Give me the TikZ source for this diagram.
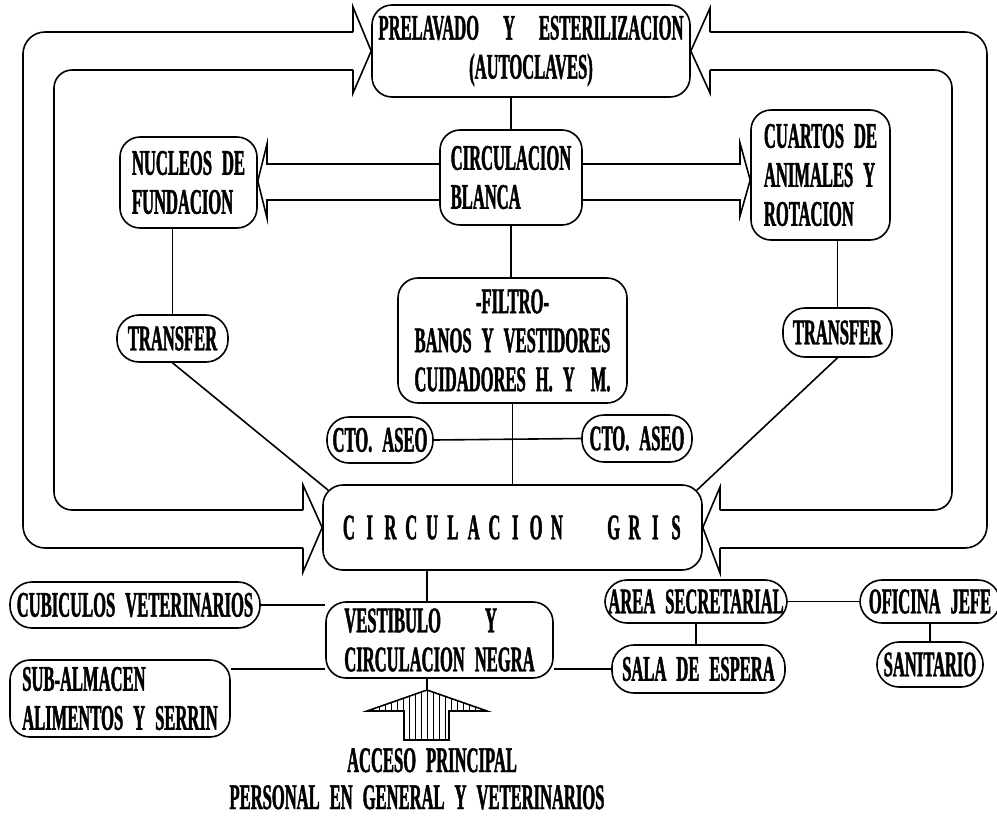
\documentclass[tikz,border=0pt]{standalone}
\usepackage{fontspec}
\newfontfamily\planfont{Liberation Serif}[FakeStretch=0.46,FakeBold=1.2]
\usetikzlibrary{patterns}
\tikzset{
  room/.style={draw,rounded corners=10pt,inner sep=0pt,align=center},
  roomleft/.style={room,align=left},
  pill/.style={draw,rounded corners=11pt,inner sep=0pt},
  bigarrow/.style={line join=miter},
  entry/.style={draw,line join=miter,pattern=vertical lines},
  caption/.style={inner sep=0pt,anchor=base}
}

\begin{document}
\begin{tikzpicture}[x=0.5pt,y=-0.5pt,line width=0.8pt,
  font={\planfont\bfseries\fontsize{18}{19.5}\selectfont\spaceskip=5pt\relax}]
\useasboundingbox (0,0) rectangle (997,816);

% rooms
\node[room,minimum width=159pt,minimum height=46pt] (pre) at (531,51)
  {PRELAVADO\hspace{12pt}Y\hspace{12pt}ESTERILIZACION\\(AUTOCLAVES)};
\node[roomleft,minimum width=71pt,minimum height=47.5pt] (bla) at (511,177.5)
  {CIRCULACION\\BLANCA};
\node[roomleft,minimum width=68.5pt,minimum height=45.5pt] (nuc) at (188.5,182.5)
  {NUCLEOS DE\\FUNDACION};
\node[roomleft,minimum width=69.5pt,minimum height=65pt] (cua) at (820.5,175)
  {CUARTOS DE\\ANIMALES Y\\ROTACION};
\node[pill,minimum width=55.5pt,minimum height=23.5pt] (trl) at (172.5,338.5) {TRANSFER};
\node[pill,minimum width=54.5pt,minimum height=24.5pt] (trr) at (837.5,332.5) {TRANSFER};
\node[room,minimum width=114.5pt,minimum height=62.5pt] (fil) at (512.5,340.5)
  {-FILTRO-\\BANOS Y VESTIDORES\\CUIDADORES H. Y\hspace{8pt}M.};
\node[pill,minimum width=53pt,minimum height=23pt] (asl) at (380,440) {CTO. ASEO};
\node[pill,minimum width=55pt,minimum height=23.5pt] (asr) at (637,438.5) {CTO. ASEO};
\node[room,minimum width=189.5pt,minimum height=42.5pt] (gris) at (512.5,527.5)
  {\foreach \gl in {C,I,R,C,U,L,A,C,I,O,N}{\makebox[10.4pt]{\gl}}\hspace{18pt}%
   \foreach \gl in {G,R,I,S}{\makebox[10.4pt]{\gl}}};
\node[pill,minimum width=125pt,minimum height=23pt] (cub) at (135,605) {CUBICULOS VETERINARIOS};
\node[roomleft,minimum width=113.5pt,minimum height=38pt] (ves) at (439.5,640)
  {VESTIBULO\hspace{22pt}Y\\CIRCULACION NEGRA};
\node[roomleft,minimum width=110pt,minimum height=38.5pt] (sub) at (120,698.5)
  {SUB-ALMACEN\\ALIMENTOS Y SERRIN};
\node[pill,minimum width=91pt,minimum height=21.5pt] (sec) at (696,601.5) {AREA SECRETARIAL};
\node[pill,minimum width=86.5pt,minimum height=24pt] (sal) at (698.5,669) {SALA DE ESPERA};
\node[pill,minimum width=70pt,minimum height=21.5pt] (ofi) at (930,601.5) {OFICINA JEFE};
\node[pill,minimum width=53pt,minimum height=22.5pt] (san) at (930,664.5) {SANITARIO};
\coordinate (acc) at (427,690);

% links
\draw (bla.north) -- (bla.north |- pre.south);
\draw (bla.south) -- (bla.south |- fil.north);
\draw (fil.south) -- (fil.south |- gris.north);
\draw (asl.east) -- (asr.west);
\draw (trl.north) -- (trl.north |- nuc.south);
\draw (trr.north) -- (trr.north |- cua.south);
\draw (trl.south) -- ([xshift=3pt,yshift=-3pt]gris.north west);
\draw (trr.south) -- ([xshift=-3pt,yshift=-3pt]gris.north east);
\draw (gris.south -| acc) -- (ves.north -| acc);
\draw (ves.south -| acc) -- (acc);
\draw (cub.east) -- (cub.east -| ves.west);
\draw (sal.west) -- (sal.west -| ves.east);
\draw (sal.west -| ves.west) -- (sal.west -| sub.east);
\draw (sec.south) -- (sec.south |- sal.north);
\draw (sec.east) -- (ofi.west);
\draw (ofi.south) -- (san.north);

% left loop
\draw[bigarrow,rounded corners=11pt] (353,32) -- (23,32) -- (23,548) -- (303,548);
\draw[bigarrow,rounded corners=9pt] (353,70) -- (54,70) -- (54,510) -- (303,510);
\draw[bigarrow] (353,32) -- (353,7) -- (pre.west) -- (353,93) -- (353,70);
\draw[bigarrow] (303,510) -- (303,485) -- (gris.west) -- (303,572) -- (303,548);

% right loop
\draw[bigarrow,rounded corners=11pt] (710,32) -- (987,32) -- (987,548) -- (720,548);
\draw[bigarrow,rounded corners=9pt] (710,70) -- (952,70) -- (952,510) -- (720,510);
\draw[bigarrow] (710,32) -- (710,8) -- (pre.east) -- (710,93) -- (710,70);
\draw[bigarrow] (720,510) -- (720,487) -- (gris.east) -- (720,573) -- (720,548);

% white circulation
\draw[bigarrow] (bla.west |- 0,164) -- (267,164) -- (267,144) -- (nuc.east |- 0,181)
  -- (267,218) -- (267,200) -- (bla.west |- 0,200);
\draw[bigarrow] (bla.east |- 0,164) -- (740,164) -- (740,143) -- (cua.west |- 0,180)
  -- (740,216) -- (740,200) -- (bla.east |- 0,200);

% main entry
\draw[entry] (acc) -- (367,711) -- (404,711) -- (404,740) -- (449,740) -- (449,711)
  -- (487,711) -- cycle;
\node[caption] (acceso) at (432,772) {ACCESO PRINCIPAL};
\node[caption] (personal) at (417,809) {PERSONAL EN GENERAL Y VETERINARIOS};
\end{tikzpicture}
\end{document}
